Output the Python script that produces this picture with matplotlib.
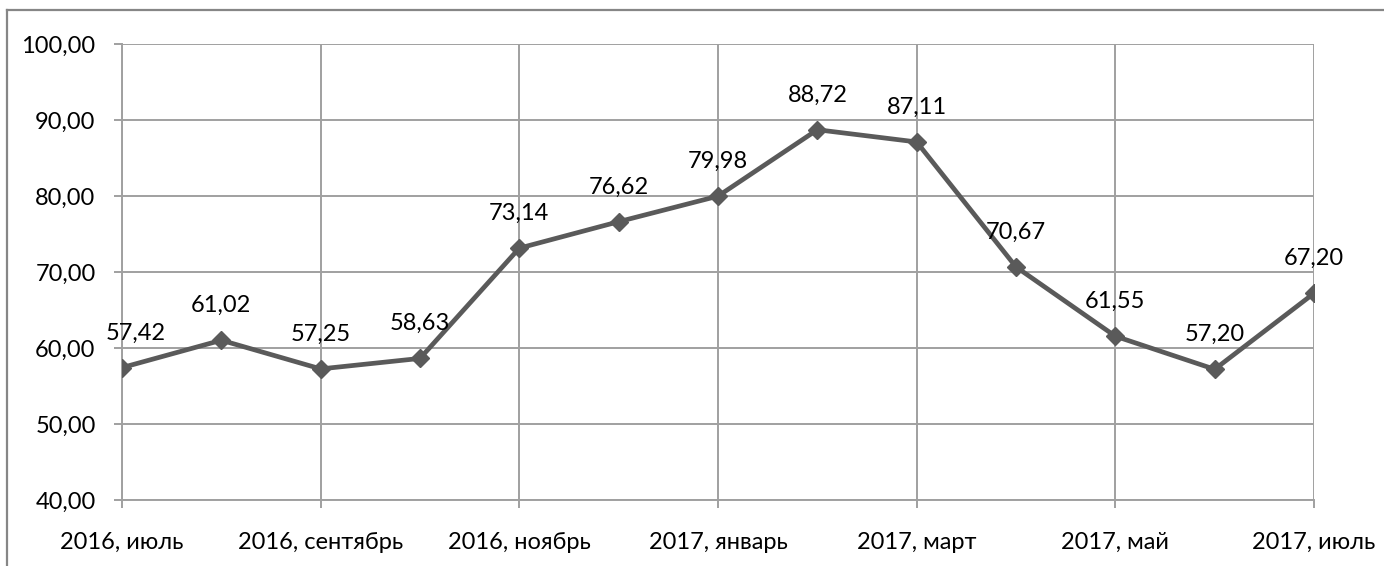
import matplotlib
matplotlib.use("Agg")
import matplotlib.pyplot as plt
from matplotlib.lines import Line2D

months = ["2016, июль", "2016, август", "2016, сентябрь", "2016, октябрь",
          "2016, ноябрь", "2016, декабрь", "2017, январь", "2017, февраль",
          "2017, март", "2017, апрель", "2017, май", "2017, июнь", "2017, июль"]
values = [57.42, 61.02, 57.25, 58.63, 73.14, 76.62, 79.98, 88.72, 87.11,
          70.67, 61.55, 57.20, 67.20]
y_ticks = [40, 50, 60, 70, 80, 90, 100]
# horizontal offsets (points) for data labels
label_dx = [9.5, 0, 0, 0, 0, 0, 0, 0, 0, 0, 0, 0, 0]

plt.rcParams['font.family'] = ['Lato', 'DejaVu Sans']
FS = 17
grid_c = '#a0a0a0'
line_c = '#5a5a5a'

fig = plt.figure(figsize=(13.84, 5.66), dpi=100)
ax = fig.add_axes([122/1384, 1-500/566, (1314-122)/1384, (500-44)/566])

x = list(range(len(values)))
ax.plot(x, values, color=line_c, lw=3.4, marker='D', markersize=9.5,
        markerfacecolor=line_c, markeredgecolor=line_c, zorder=3,
        solid_joinstyle='miter')

for xi, v, dx in zip(x, values, label_dx):
    ax.annotate(f"{v:.2f}".replace('.', ','), (xi, v), xytext=(dx, 25),
                textcoords='offset points', ha='center', va='center',
                fontsize=FS, color='black', zorder=4)

ax.set_xlim(0, len(values) - 1)
ax.set_ylim(y_ticks[0], y_ticks[-1])
ax.set_yticks(y_ticks)
ax.set_yticklabels([f"{t:.2f}".replace('.', ',') for t in y_ticks], fontsize=FS)
ax.set_xticks(x[::2])
ax.set_xticklabels(months[::2], fontsize=FS)

ax.grid(True, color=grid_c, lw=1.4)
ax.set_axisbelow(True)
for s in ['top', 'right']:
    ax.spines[s].set_visible(False)
for s in ['left', 'bottom']:
    ax.spines[s].set_color(grid_c)
    ax.spines[s].set_linewidth(1.4)
ax.tick_params(axis='y', length=6, width=1.4, color=grid_c, pad=13)
ax.tick_params(axis='x', length=6, width=1.4, color=grid_c, pad=17)

# chart border (left and top visible)
fig.add_artist(Line2D([7/1384, 7/1384], [0, 1-10/566], color='#868686', lw=1.6,
                      transform=fig.transFigure))
fig.add_artist(Line2D([7/1384, 1], [1-10/566, 1-10/566], color='#868686', lw=1.6,
                      transform=fig.transFigure))

fig.savefig("out.png", dpi=100)
